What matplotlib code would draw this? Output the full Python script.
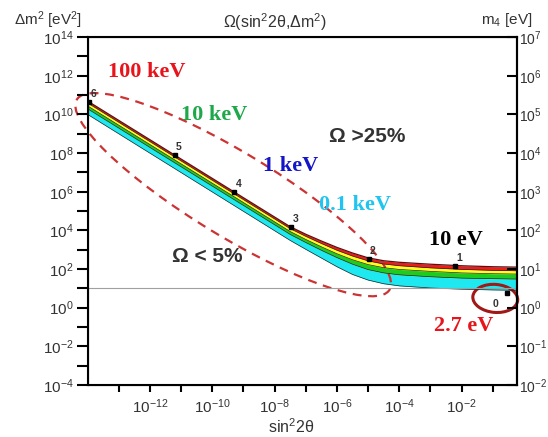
import matplotlib
matplotlib.use("Agg")
import matplotlib.pyplot as plt
import numpy as np
from matplotlib.patches import Ellipse
from matplotlib.transforms import ScaledTranslation

plt.rcParams["mathtext.fontset"] = "custom"
plt.rcParams["mathtext.rm"] = "Liberation Sans"
plt.rcParams["mathtext.it"] = "Liberation Sans:italic"
plt.rcParams["mathtext.bf"] = "Liberation Sans:bold"

# boundaries of the coloured bands (log10 values)
log_s = [-14, -7.5, -7.0, -6.5, -6.0, -5.5, -5.0, -4.5, -4.0, -3.0, -2.0, -1.0, -0.23]
top_red = [10.69, 4.19, 3.80, 3.45, 3.12, 2.83, 2.58, 2.43, 2.35, 2.25, 2.17, 2.12, 2.10]
red_yellow = [10.59, 4.09, 3.69, 3.32, 2.97, 2.67, 2.42, 2.26, 2.17, 2.06, 1.98, 1.93, 1.91]
yellow_green = [10.44, 3.94, 3.53, 3.15, 2.79, 2.48, 2.23, 2.07, 1.98, 1.88, 1.80, 1.76, 1.74]
green_cyan = [10.29, 3.79, 3.37, 2.97, 2.59, 2.25, 1.97, 1.80, 1.70, 1.60, 1.53, 1.50, 1.48]
bottom_cyan = [10.0, 3.48, 3.02, 2.57, 2.12, 1.72, 1.43, 1.24, 1.13, 1.02, 0.96, 0.92, 0.90]
band_colors = ["#ee1c1c", "#ffff1a", "#1ecc1e", "#1ee8f0"]

# numbered points 0..6
pt_labels = ["0", "1", "2", "3", "4", "5", "6"]
pt_log_s = [-0.54, -2.2, -4.98, -7.47, -9.29, -11.21, -13.95]
pt_log_m2 = [0.77, 2.15, 2.5, 4.17, 5.98, 7.9, 10.62]

s = 10.0 ** np.array(log_s)
bounds = [10.0 ** np.array(b) for b in [top_red, red_yellow, yellow_green, green_cyan, bottom_cyan]]

fig = plt.figure(figsize=(5.48, 4.37), dpi=100)
ax = fig.add_axes([0.160, 0.119, 0.783, 0.796])
sans = "Liberation Sans"
serif = "Liberation Serif"
tick_col = "#333333"

for i in range(4):
    ax.fill_between(s, bounds[i + 1], bounds[i], color=band_colors[i], lw=0)
for i, b in enumerate(bounds):
    ax.plot(s, b, color="#5a1010" if i == 0 else "#222222", lw=0.9 if i == 0 else 0.5)

ax.axhline(10, color="#a0a0a0", lw=0.8)

ax.set_xscale("log")
ax.set_yscale("log")
ax.set_xlim(1e-14, 10 ** -0.23)
ax.set_ylim(1e-4, 1e14)

ax.set_xticks([10.0 ** k for k in range(-13, 0)])
ax.set_xticklabels(["" if k % 2 else "$10^{%d}$" % k for k in range(-13, 0)])
ax.set_yticks([10.0 ** k for k in range(-4, 15)])
ax.set_yticklabels(["" if k % 2 else "$10^{%d}$" % k for k in range(-4, 15)])
ax.minorticks_off()
ax.tick_params(axis="x", direction="out", length=5, width=1.5, labelsize=11, colors="black",
               labelcolor=tick_col, pad=4)
ax.tick_params(axis="y", direction="out", length=8, width=1.5, labelsize=11, colors="black",
               labelcolor=tick_col, pad=2)
for sp in ax.spines.values():
    sp.set_linewidth(1.5)

ax2 = ax.twinx()
ax2.set_yscale("log")
ax2.set_ylim(1e-2, 1e7)
ax2.set_yticks([10.0 ** k for k in range(-2, 8)])
ax2.set_yticklabels(["$10^{%d}$" % k for k in range(-2, 8)])
ax2.minorticks_off()
ax2.tick_params(axis="y", direction="in", length=7, width=1.5, labelsize=10,
                labelcolor=tick_col, pad=1.5)
ax2.spines["right"].set_linewidth(1.5)

# numbered points
for lab, lx, ly in zip(pt_labels, pt_log_s, pt_log_m2):
    ax.plot(10 ** lx, 10 ** ly, "s", color="black", ms=3)
    off = (-8, -8) if lab == "0" else (3, 6)
    ax.annotate(lab, (10 ** lx, 10 ** ly), textcoords="offset points", xytext=off,
                ha="center", va="center", fontsize=7.5, fontweight="bold",
                color="#333333", family=sans)

# dashed contour and circle around point 0
big = Ellipse((0, 0), 3.66, 0.84, angle=-31.3, fill=False, ec="#cc3333", lw=1.6,
              ls=(0, (4, 3)), clip_on=False,
              transform=fig.dpi_scale_trans + ScaledTranslation(10 ** -9.33, 10 ** 5.85, ax.transData))
ax.add_patch(big)
small = Ellipse((0, 0), 0.45, 0.28, angle=-5, fill=False, ec="#a01818", lw=2.2, clip_on=False,
                transform=fig.dpi_scale_trans + ScaledTranslation(10 ** -0.92, 10 ** 0.48, ax.transData))
ax.add_patch(small)

# text labels (positions in log10 units)
labels = [("100 keV", -12.1, 12.19, "#e8141b", serif, 16),
          ("10 keV", -9.93, 9.96, "#1ea84a", serif, 16),
          ("1 keV", -7.5, 7.33, "#1515c8", serif, 16),
          ("0.1 keV", -5.43, 5.31, "#20c4ef", serif, 16),
          ("10 eV", -2.17, 3.5, "black", serif, 16),
          ("2.7 eV", -1.94, -0.95, "#e8141b", serif, 16),
          ("Ω >25%", -5.04, 8.88, "#333333", sans, 15),
          ("Ω < 5%", -10.16, 2.67, "#333333", sans, 15)]
for txt, lx, ly, col, fam, fs in labels:
    ax.text(10 ** lx, 10 ** ly, txt, color=col, family=fam, fontsize=fs, fontweight="bold",
            ha="center", va="center")

fig.text(275 / 548, 1 - 22 / 437, "Ω(sin$^2$2θ,Δm$^2$)", ha="center", va="center",
         fontsize=11.5, family=sans, color="#333333")
fig.text(48 / 548, 1 - 20 / 437, "Δm$^2$ [eV$^2$]", ha="center", va="center",
         fontsize=11, family=sans, color="#333333")
fig.text(507 / 548, 1 - 20 / 437, "m$_4$ [eV]", ha="center", va="center",
         fontsize=11, family=sans, color="#333333")
fig.text(291 / 548, 1 - 427 / 437, "sin$^2$2θ", ha="center", va="center",
         fontsize=11.5, family=sans, color="#333333")

fig.savefig("out.png", dpi=100)
